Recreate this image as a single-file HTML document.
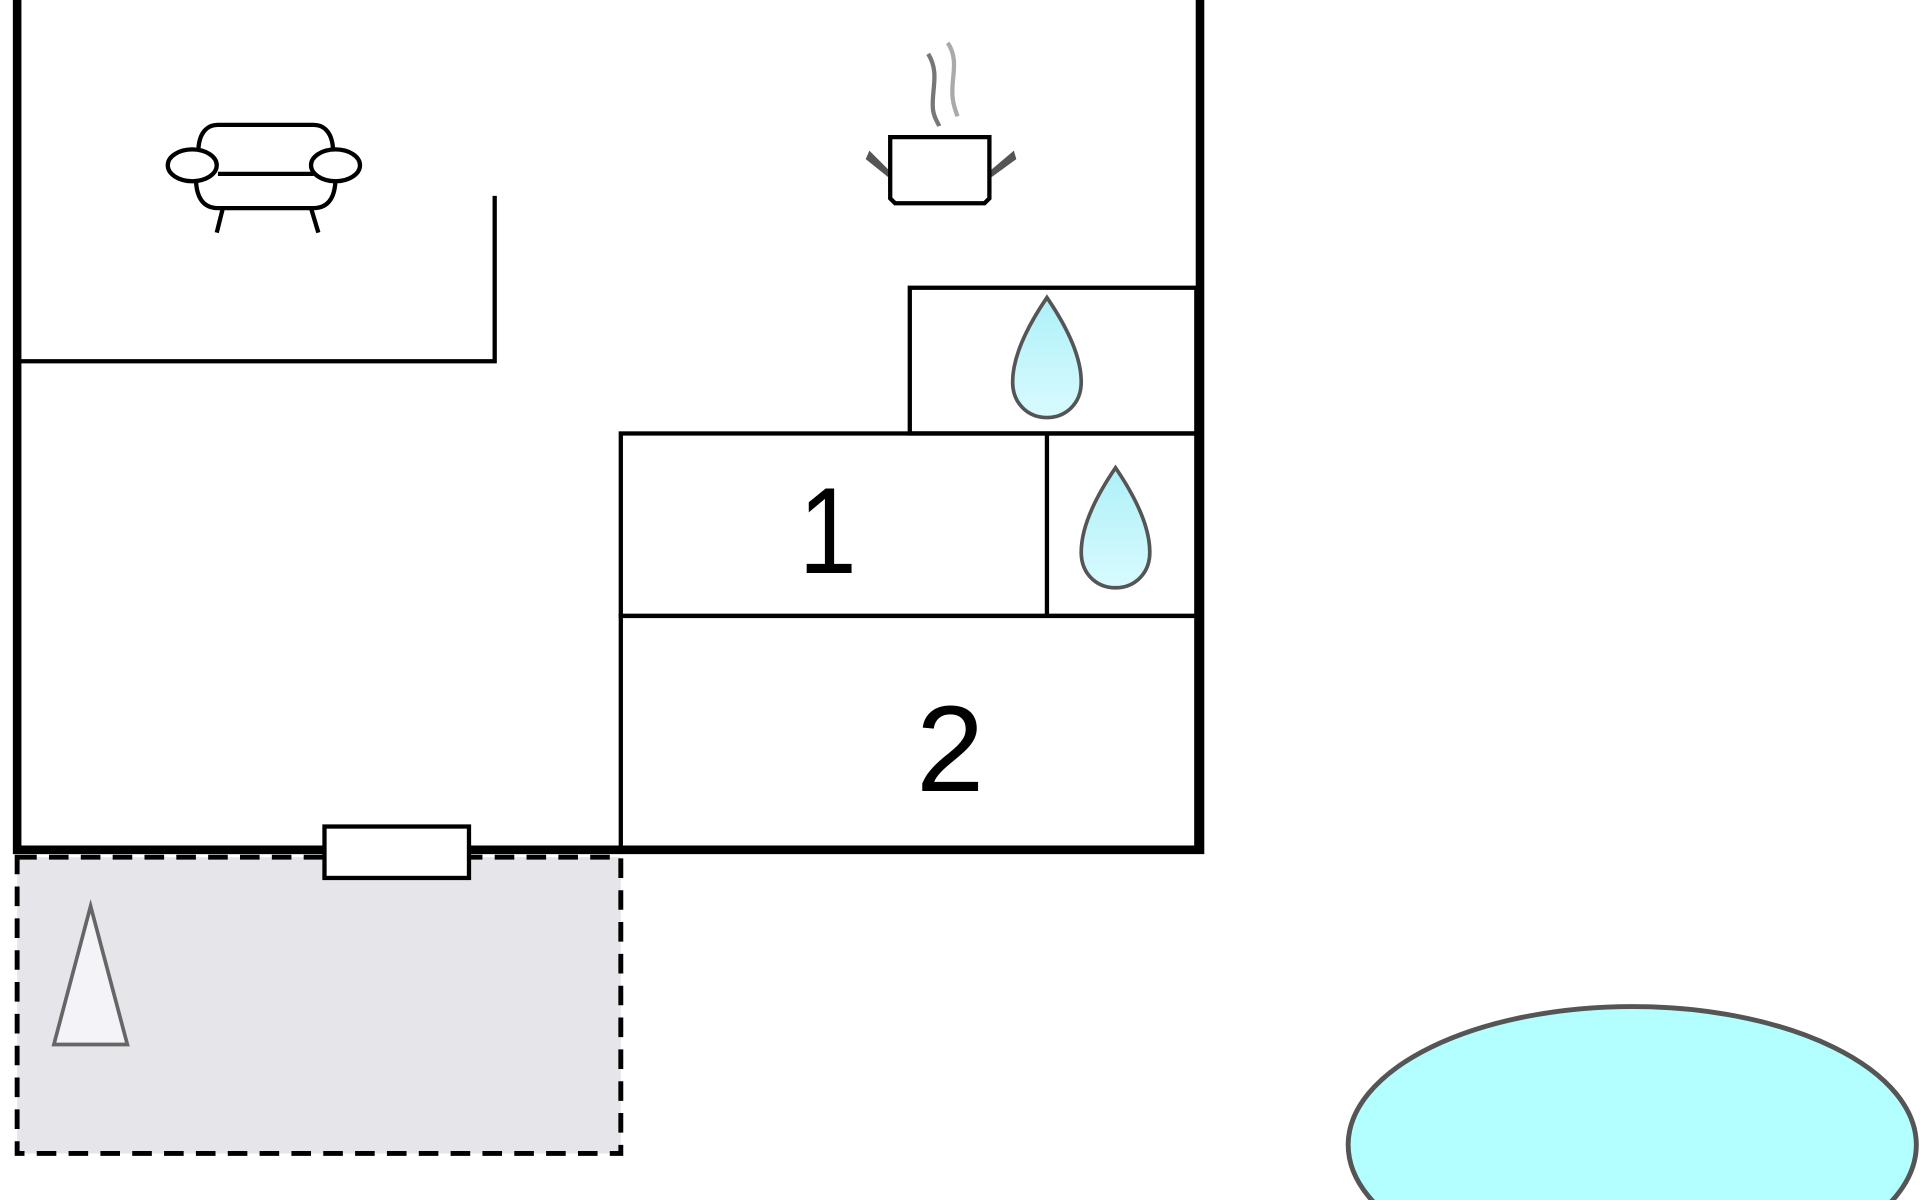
<!DOCTYPE html>
<html><head><meta charset="utf-8"><style>
html,body{margin:0;padding:0;background:#fff;width:1920px;height:1200px;overflow:hidden}
svg{display:block;overflow:hidden}
</style></head><body>
<svg width="1920" height="1200" viewBox="0 0 1568 980" xmlns="http://www.w3.org/2000/svg">
<rect width="1568" height="980" fill="#fff"/>
<rect x="14" y="700" width="493" height="242" fill="#e6e6ea" stroke="#000" stroke-width="4" stroke-dasharray="16,10"/>
<polygon points="74,740 44,853 104,853" fill="#f4f4f8" stroke="#666" stroke-width="3"/>
<polyline points="14,0 14,694 980,694 980,0" fill="none" stroke="#000" stroke-width="7"/>
<polyline points="17,295 404,295 404,160" fill="none" stroke="#000" stroke-width="3.5"/>
<rect x="743" y="235" width="234" height="119" fill="none" stroke="#000" stroke-width="3.5"/>
<rect x="507" y="354" width="470" height="149" fill="none" stroke="#000" stroke-width="3.5"/>
<line x1="855" y1="354" x2="855" y2="503" stroke="#000" stroke-width="3.5"/>
<rect x="507" y="503" width="470" height="191" fill="none" stroke="#000" stroke-width="3.5"/>
<text x="676" y="468" font-family="Liberation Sans, sans-serif" font-size="100" text-anchor="middle" transform="translate(676,0) scale(0.85,1) translate(-676,0)">1</text>
<text x="776" y="646" font-family="Liberation Sans, sans-serif" font-size="100" text-anchor="middle">2</text>
<rect x="265" y="675" width="118" height="42" fill="#fff" stroke="#000" stroke-width="3.5"/>
<defs><linearGradient id="g" x1="0" y1="0" x2="0" y2="1"><stop offset="0" stop-color="#aef0f8"/><stop offset="1" stop-color="#d8fbff"/></linearGradient></defs>
<path d="M855,243 C840,265 827,290 827,312 C827,330 840,341 855,341 C870,341 883,330 883,312 C883,290 870,265 855,243 Z" fill="url(#g)" stroke="#555" stroke-width="3"/>
<path d="M911,382 C896,404 883,429 883,451 C883,469 896,480 911,480 C926,480 939,469 939,451 C939,429 926,404 911,382 Z" fill="url(#g)" stroke="#555" stroke-width="3"/>
<ellipse cx="1333" cy="935" rx="232" ry="113" fill="#b3ffff" stroke="#555" stroke-width="4"/>
<g fill="none" stroke="#000" stroke-width="3.5">
<path d="M162,124 C162,110 168,102 178,102 L256,102 C266,102 272,110 272,124"/>
<path d="M160,145 C160,160 165,170 178,170 L256,170 C269,170 274,160 274,145"/>
<line x1="178" y1="142" x2="256" y2="142"/>
<ellipse cx="157" cy="135" rx="20" ry="13" fill="#fff"/>
<ellipse cx="274" cy="135" rx="20" ry="13" fill="#fff"/>
<line x1="182" y1="170" x2="177" y2="190"/>
<line x1="254" y1="170" x2="260" y2="190"/>
</g>
<g>
<path d="M710,123 L727,140 L727,146 L707,130 Z" fill="#555"/>
<path d="M828,123 L808,140 L808,146 L830,130 Z" fill="#555"/>
<path d="M727,112 L808,112 L808,162 L804,166 L731,166 L727,162 Z" fill="#fff" stroke="#000" stroke-width="3.5"/>
<path d="M758,44 C768,60 760,75 762,90 C763,97 766,100 767,103" fill="none" stroke="#777" stroke-width="3.5"/>
<path d="M774,35 C784,50 776,65 778,80 C779,88 781,92 782,95" fill="none" stroke="#aaa" stroke-width="3.5"/>
</g>
</svg>
</body></html>
